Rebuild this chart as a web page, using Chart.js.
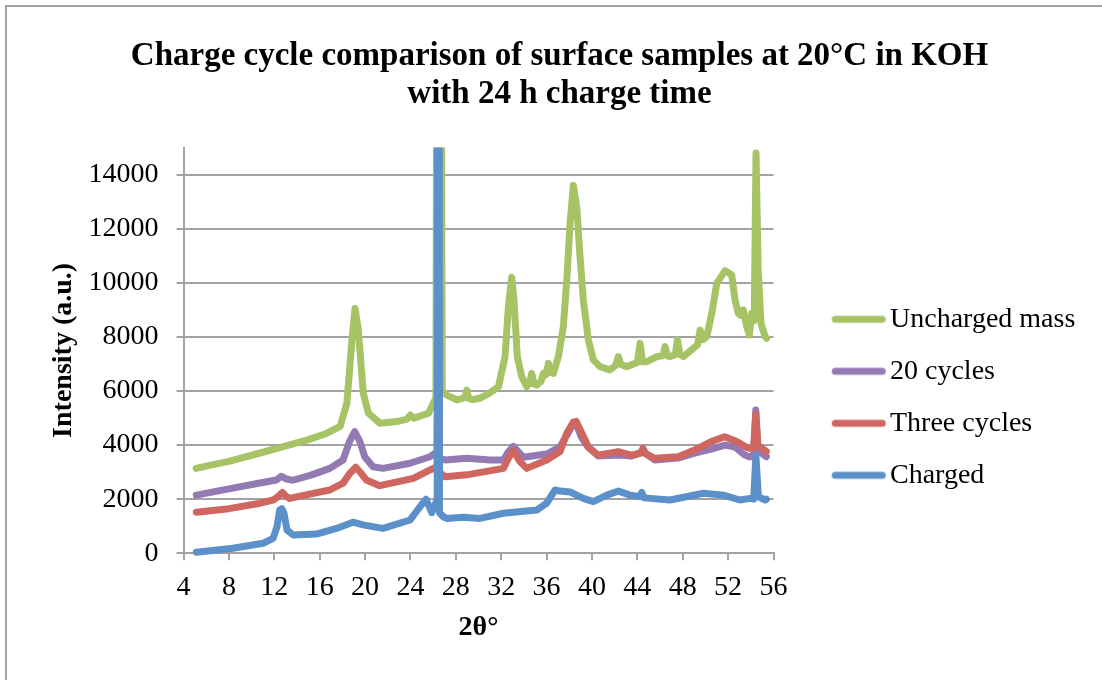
<!DOCTYPE html>
<html>
<head>
<meta charset="utf-8">
<title>Charge cycle comparison</title>
<script src="https://cdn.jsdelivr.net/npm/chart.js@4.4.1/dist/chart.umd.min.js"></script>
<style>
  html, body { margin: 0; padding: 0; background: #ffffff; }
  #wrap { position: relative; width: 1102px; height: 680px; }
</style>
</head>
<body>
<div id="wrap"><canvas id="xrd"></canvas></div>
<script>
// 2θ (degrees) and intensity (a.u.) for each sample
const unchargedTheta = [5.1, 6.5, 8, 10.5, 12.8, 15, 16.6, 17.8, 18.4, 18.85, 19.12, 19.4, 19.85, 20.3, 21.3, 22.8, 23.7, 24.0, 24.3, 25.6, 25.9, 26.25, 26.5, 26.8, 27.2, 28.1, 28.8, 28.96, 29.15, 29.5, 30.1, 30.9, 31.75, 32.34, 32.63, 32.93, 33.13, 33.42, 33.81, 34.25, 34.5, 34.69, 34.9, 35.13, 35.5, 35.72, 35.95, 36.16, 36.35, 36.6, 37.04, 37.48, 37.78, 38.07, 38.36, 38.66, 38.95, 39.24, 39.68, 40.12, 40.71, 41.59, 42.1, 42.33, 42.55, 43.07, 44.0, 44.24, 44.45, 44.83, 45.71, 46.25, 46.44, 46.65, 46.88, 47.35, 47.53, 47.75, 48.06, 48.94, 49.3, 49.53, 49.8, 50.12, 50.56, 51.0, 51.73, 52.32, 52.61, 52.9, 53.1, 53.34, 53.64, 53.87, 54.08, 54.3, 54.46, 54.65, 54.9, 55.26, 55.4];
const unchargedCounts = [3140, 3270, 3400, 3680, 3940, 4200, 4430, 4690, 5550, 7900, 9050, 8300, 5900, 5180, 4810, 4870, 4960, 5110, 4990, 5180, 5450, 5750, 60000, 6000, 5850, 5670, 5750, 6030, 5720, 5680, 5730, 5900, 6150, 7270, 9100, 10200, 9350, 7270, 6530, 6160, 6300, 6650, 6250, 6220, 6350, 6650, 6600, 7020, 6700, 6650, 7270, 8380, 10100, 12200, 13600, 12800, 10960, 9360, 7890, 7150, 6900, 6780, 6950, 7270, 6980, 6900, 7050, 7760, 7080, 7080, 7270, 7300, 7640, 7300, 7270, 7350, 7890, 7350, 7270, 7580, 7700, 8250, 7900, 8010, 8870, 9980, 10450, 10290, 9360, 8870, 8800, 9000, 8380, 8070, 8870, 8600, 14800, 10500, 8500, 8010, 7950];

const twentyTheta = [5.13, 8, 10.5, 12.18, 12.62, 13.1, 13.65, 15.3, 16.89, 18.06, 18.65, 19.09, 19.53, 19.97, 20.7, 21.58, 23.96, 25.73, 26.36, 26.46, 26.56, 27.05, 28.96, 31.02, 32.19, 32.63, 33.07, 33.51, 33.95, 36.01, 37.19, 37.79, 38.36, 38.6, 39.06, 39.65, 40.54, 42.3, 43.5, 44.5, 45.53, 47.59, 49.06, 50.52, 51.72, 52.6, 53.47, 53.91, 54.25, 54.44, 54.62, 54.81, 55.37];
const twentyCounts = [2150, 2380, 2580, 2710, 2850, 2740, 2700, 2900, 3140, 3450, 4150, 4500, 4150, 3570, 3200, 3140, 3330, 3570, 3750, 14000, 3500, 3450, 3510, 3450, 3450, 3750, 3950, 3750, 3550, 3670, 3940, 4370, 4780, 4800, 4300, 3930, 3600, 3630, 3600, 3750, 3450, 3520, 3700, 3850, 4000, 3930, 3630, 3560, 3600, 5300, 3800, 3750, 3570];

const threeTheta = [5.13, 8, 10.5, 11.89, 12.3, 12.71, 13.0, 13.36, 15, 16.89, 18.06, 18.65, 19.18, 19.67, 20.11, 21.3, 24.26, 25.73, 26.36, 26.46, 26.56, 27.05, 28.96, 32.19, 32.63, 33.07, 33.66, 34.25, 36.01, 37.19, 37.78, 38.36, 38.6, 39.4, 39.65, 40.53, 42.3, 43.47, 44.3, 44.5, 44.7, 45.53, 47.59, 49.06, 50.52, 51.7, 52.76, 53.78, 54.25, 54.44, 54.62, 54.81, 55.37];
const threeCounts = [1520, 1650, 1830, 1970, 2080, 2250, 2120, 2030, 2180, 2340, 2590, 2950, 3180, 2950, 2710, 2500, 2770, 3080, 3200, 12000, 3000, 2830, 2900, 3140, 3510, 3800, 3390, 3140, 3450, 3760, 4440, 4850, 4880, 4190, 3940, 3630, 3760, 3630, 3700, 3880, 3700, 3510, 3570, 3820, 4130, 4310, 4130, 3880, 3900, 5150, 4000, 3940, 3760];

const chargedTheta = [5.13, 8.36, 11.01, 11.89, 12.24, 12.48, 12.66, 12.86, 13.12, 13.65, 15.71, 17.47, 18.94, 19.82, 21.58, 23.96, 24.84, 25.37, 25.88, 26.36, 26.46, 26.56, 26.9, 27.2, 28.66, 30.13, 32.19, 35.13, 36.0, 36.75, 37.19, 38.07, 39.24, 40.12, 41.3, 42.33, 43.36, 44.2, 44.39, 44.6, 45.12, 46.88, 49.82, 51.58, 53.05, 53.93, 54.25, 54.45, 54.67, 55.26, 55.37];
const chargedCounts = [40, 185, 370, 555, 980, 1600, 1650, 1480, 860, 680, 710, 920, 1150, 1050, 920, 1230, 1720, 2000, 1500, 2000, 60000, 1500, 1350, 1290, 1330, 1290, 1480, 1600, 1850, 2340, 2300, 2270, 2030, 1910, 2150, 2300, 2150, 2100, 2250, 2050, 2030, 1970, 2220, 2150, 1970, 2030, 2000, 3600, 2090, 1970, 2000];

// Axis tick values
const thetaTicks = [4, 8, 12, 16, 20, 24, 28, 32, 36, 40, 44, 48, 52, 56];
const intensityTicks = [0, 2000, 4000, 6000, 8000, 10000, 12000, 14000];

const SERIF = "'Liberation Serif', 'Times New Roman', serif";
const GRID = '#a3a3a3';

// Series in legend order; lower `order` is painted on top
const series = [
  { label: 'Uncharged mass', theta: unchargedTheta, counts: unchargedCounts, color: '#a6c366', order: 4 },
  { label: '20 cycles',      theta: twentyTheta,    counts: twentyCounts,    color: '#937ab3', order: 3 },
  { label: 'Three cycles',   theta: threeTheta,     counts: threeCounts,     color: '#cf6660', order: 2 },
  { label: 'Charged',        theta: chargedTheta,   counts: chargedCounts,   color: '#5b90c8', order: 1 }
];

// Short thick line used as the legend key
function lineSwatch(color) {
  const c = document.createElement('canvas');
  c.width = 100; c.height = 10;
  const g = c.getContext('2d');
  g.strokeStyle = color; g.lineWidth = 7; g.lineCap = 'round';
  g.beginPath(); g.moveTo(48.5, 5); g.lineTo(95.5, 5); g.stroke();
  return c;
}
const swatches = series.map(s => lineSwatch(s.color));

// Frame, title centring and legend placement
const chartFrame = {
  id: 'chartFrame',
  afterLayout(chart) {
    const t = chart.titleBlock;
    const shift = 559.5 - (t.left + t.right) / 2;
    t.left += shift; t.right += shift;
    const lg = chart.legend;
    lg.top = 281.3;
    lg.right = chart.width;
    lg.bottom = chart.height;
  },
  beforeDraw(chart) {
    const ctx = chart.ctx;
    ctx.save();
    ctx.fillStyle = '#ffffff';
    ctx.fillRect(0, 0, chart.width, chart.height);
    ctx.strokeStyle = GRID; ctx.lineWidth = 2;
    ctx.beginPath();
    ctx.moveTo(6, chart.height); ctx.lineTo(6, 6); ctx.lineTo(chart.width, 6);
    ctx.stroke();
    ctx.restore();
  }
};

new Chart(document.getElementById('xrd'), {
  type: 'line',
  data: {
    datasets: series.map(s => ({
      label: s.label,
      data: s.theta.map((t, i) => ({ x: t, y: s.counts[i] })),
      borderColor: s.color,
      backgroundColor: s.color,
      borderWidth: 7,
      borderCapStyle: 'round',
      borderJoinStyle: 'round',
      pointRadius: 0,
      pointHoverRadius: 0,
      tension: 0,
      fill: false,
      order: s.order,
      clip: { left: 8, right: 8, top: 0, bottom: 8 }
    }))
  },
  options: {
    responsive: true,
    maintainAspectRatio: false,
    animation: false,
    devicePixelRatio: 1,
    events: [],
    layout: { padding: { left: 0, right: 128.5, top: 0, bottom: 0 } },
    plugins: {
      title: {
        display: true,
        text: ['Charge cycle comparison of surface samples at 20°C in KOH', 'with 24 h charge time'],
        color: '#000000',
        font: { family: SERIF, size: 33, weight: 'bold', lineHeight: 38 / 33 },
        padding: { top: 37, bottom: 34.5 }
      },
      legend: {
        position: 'right',
        align: 'start',
        maxWidth: 200,
        labels: {
          usePointStyle: true,
          pointStyleWidth: 78.5,
          padding: 24,
          color: '#000000',
          font: { family: SERIF, size: 28 },
          generateLabels(chart) {
            const items = Chart.defaults.plugins.legend.labels.generateLabels(chart);
            items.sort((a, b) => a.datasetIndex - b.datasetIndex);
            items.forEach(it => { it.pointStyle = swatches[it.datasetIndex]; });
            return items;
          }
        }
      },
      tooltip: { enabled: false }
    },
    scales: {
      x: {
        type: 'linear',
        min: 4,
        max: 56,
        afterBuildTicks(scale) { scale.ticks = thetaTicks.map(v => ({ value: v })); },
        afterFit(scale) { scale.height = 126.7; },
        grid: { drawOnChartArea: false, drawTicks: true, tickLength: 7, color: GRID, lineWidth: 2 },
        border: { color: GRID, width: 2 },
        ticks: {
          padding: 11, color: '#000000', maxRotation: 0, autoSkip: false,
          font: { family: SERIF, size: 28 },
          callback: v => String(v)
        },
        title: {
          display: true, text: '2θ°', color: '#000000',
          font: { family: SERIF, size: 28, weight: 'bold' },
          padding: { top: 0, bottom: 35.2 }
        }
      },
      y: {
        type: 'linear',
        min: 0,
        max: 15000,
        afterBuildTicks(scale) { scale.ticks = intensityTicks.map(v => ({ value: v })); },
        afterFit(scale) { scale.width = 183.5; },
        grid: { drawOnChartArea: true, drawTicks: true, tickLength: 7, color: GRID, lineWidth: 2 },
        border: { color: GRID, width: 2 },
        ticks: {
          padding: 18, color: '#000000',
          font: { family: SERIF, size: 28 },
          callback: v => String(v)
        },
        title: {
          display: true, text: 'Intensity (a.u.)', color: '#000000',
          font: { family: SERIF, size: 28, weight: 'bold' },
          padding: { top: 47.2, bottom: 0 }
        }
      }
    }
  },
  plugins: [chartFrame]
});
</script>
</body>
</html>
